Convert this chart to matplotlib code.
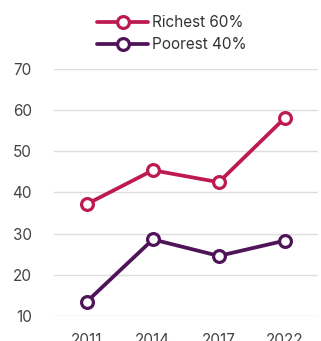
import matplotlib.pyplot as plt

years = ["2011", "2014", "2017", "2022"]
richest = [37.2, 45.4, 42.5, 58.1]
poorest = [13.5, 28.6, 24.6, 28.3]

series = [
    ("Richest 60%", richest, "#BE1A52"),
    ("Poorest 40%", poorest, "#4F1358"),
]

plt.rcParams['font.family'] = ['Inter', 'DejaVu Sans']

fig = plt.figure(figsize=(3.21, 3.41), dpi=100)
ax = fig.add_axes([0.168, 0.0733, 0.822, 0.7244])

x = list(range(len(years)))
for name, vals, color in series:
    ax.plot(x, vals, color=color, lw=2.7, marker='o', markersize=8.5,
            markerfacecolor='white', markeredgecolor=color, markeredgewidth=2.3,
            label=name, zorder=3, solid_capstyle='round')

ax.set_xlim(-0.5, len(years) - 0.5)
ax.set_ylim(10, 70)
ax.set_yticks(range(10, 71, 10))
ax.set_xticks(x)
ax.set_xticklabels(years)
ax.tick_params(length=0, labelsize=11, labelcolor='#444444')
ax.tick_params(axis='y', pad=16)
ax.tick_params(axis='x', pad=12)
ax.grid(axis='y', color='#dddddd', lw=1)
ax.set_axisbelow(True)
for s in ax.spines.values():
    s.set_visible(False)

fig.legend(loc='upper left', bbox_to_anchor=(0.275, 0.982), frameon=False,
           handlelength=3.3, handletextpad=0.25, labelspacing=0.45,
           fontsize=11, labelcolor='#333333', borderaxespad=0.2)

fig.savefig('out.png', dpi=100)
